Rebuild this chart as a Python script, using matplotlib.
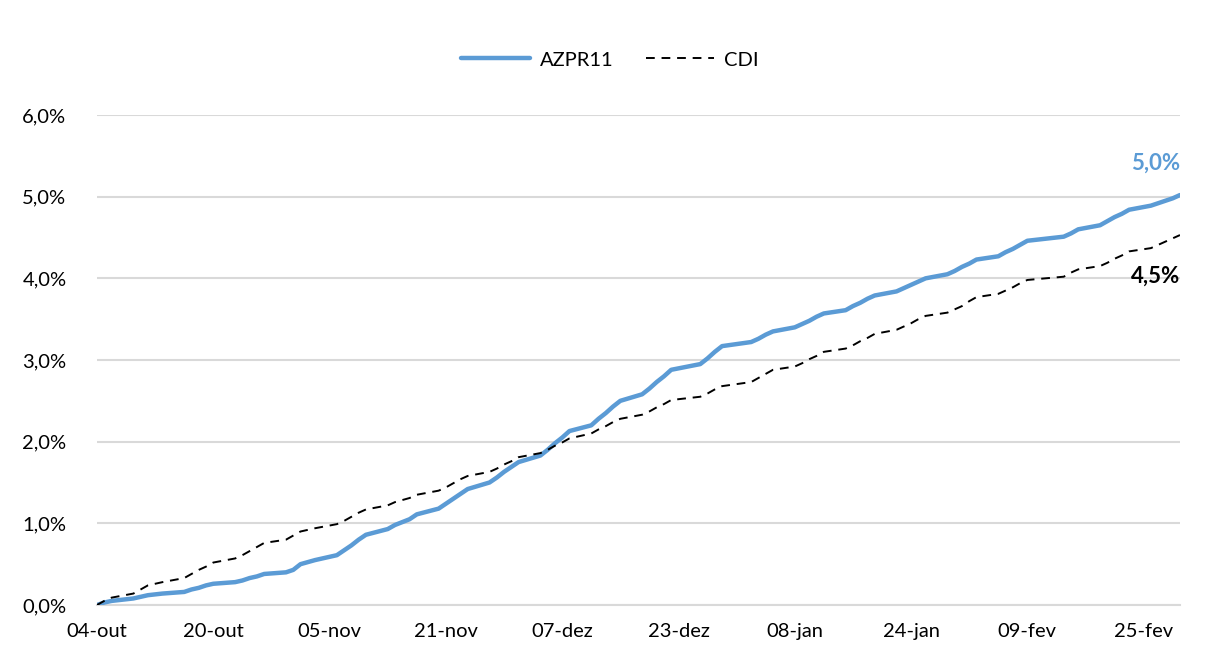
"""
AZPR11 vs CDI - retorno acumulado
"""
import matplotlib
matplotlib.use("Agg")
import matplotlib.pyplot as plt
import pandas as pd

# business days 04-out-2023 .. 01-mar-2024 (B3 holidays removed)
start_date = "2023-10-04"
end_date = "2024-03-01"
holidays = ["2023-10-12", "2023-11-02", "2023-11-15", "2023-12-25",
            "2024-01-01", "2024-02-12", "2024-02-13"]

# cumulative return in %, one row per week
azpr11 = [
    0.00, 0.03, 0.05,
    0.08, 0.10, 0.12, 0.14,
    0.16, 0.19, 0.21, 0.24, 0.26,
    0.28, 0.30, 0.33, 0.35, 0.38,
    0.40, 0.43, 0.50, 0.55,
    0.61, 0.67, 0.73, 0.80, 0.86,
    0.93, 0.98, 1.05, 1.11,
    1.18, 1.24, 1.30, 1.36, 1.42,
    1.50, 1.56, 1.63, 1.69, 1.75,
    1.83, 1.90, 1.98, 2.05, 2.13,
    2.20, 2.28, 2.35, 2.43, 2.50,
    2.58, 2.65, 2.73, 2.80, 2.88,
    2.95, 3.02, 3.10, 3.17,
    3.22, 3.26, 3.31, 3.35,
    3.40, 3.44, 3.48, 3.53, 3.57,
    3.61, 3.66, 3.70, 3.75, 3.79,
    3.84, 3.88, 3.92, 3.96, 4.00,
    4.05, 4.09, 4.14, 4.18, 4.23,
    4.27, 4.32, 4.36, 4.41, 4.46,
    4.51, 4.55, 4.60,
    4.65, 4.70, 4.75, 4.79, 4.84,
    4.89, 4.92, 4.95, 4.98, 5.02,
]
cdi = [
    0.00, 0.05, 0.09,
    0.14, 0.19, 0.24, 0.28,
    0.33, 0.38, 0.43, 0.47, 0.52,
    0.57, 0.61, 0.66, 0.71, 0.76,
    0.80, 0.85, 0.90, 0.94,
    0.99, 1.03, 1.08, 1.13, 1.17,
    1.22, 1.26, 1.31, 1.35,
    1.40, 1.44, 1.49, 1.54, 1.58,
    1.63, 1.67, 1.72, 1.76, 1.81,
    1.86, 1.90, 1.95, 1.99, 2.04,
    2.10, 2.15, 2.19, 2.24, 2.28,
    2.33, 2.37, 2.42, 2.46, 2.51,
    2.55, 2.59, 2.64, 2.68,
    2.73, 2.78, 2.83, 2.88,
    2.92, 2.96, 3.01, 3.05, 3.10,
    3.14, 3.18, 3.23, 3.27, 3.32,
    3.37, 3.41, 3.45, 3.50, 3.54,
    3.58, 3.62, 3.66, 3.72, 3.77,
    3.81, 3.85, 3.89, 3.94, 3.98,
    4.02, 4.07, 4.11,
    4.15, 4.19, 4.24, 4.28, 4.33,
    4.37, 4.41, 4.45, 4.49, 4.53,
]
series_names = ["AZPR11", "CDI"]
y_ticks = [0, 1, 2, 3, 4, 5, 6]
month_pt = {10: "out", 11: "nov", 12: "dez", 1: "jan", 2: "fev", 3: "mar"}

dates = pd.bdate_range(start_date, end_date, freq="C", holidays=holidays)

BLUE = "#5B9BD5"
GRID = "#D9D9D9"
plt.rcParams["font.family"] = ["Lato", "DejaVu Sans"]

fig = plt.figure(figsize=(12.11, 6.69), dpi=100)
ax = fig.add_axes([97 / 1211, 1 - 605 / 669, (1180 - 97) / 1211, (605 - 115) / 669])

ax.plot(dates, azpr11, color=BLUE, lw=3.2, label=series_names[0],
        solid_capstyle="round", zorder=3)
ax.plot(dates, cdi, color="black", lw=1.4, ls=(0, (4.5, 3.5)),
        label=series_names[1], zorder=4)

ax.set_xlim(dates[0], dates[-1])
ax.set_ylim(y_ticks[0], y_ticks[-1])

# y axis
ax.set_yticks(y_ticks)
ax.set_yticklabels([f"{v:.1f}%".replace(".", ",") for v in y_ticks])
ax.yaxis.grid(True, color=GRID, lw=1.5)
ax.set_axisbelow(True)

# x axis, one label every 16 days
x_ticks = pd.date_range(start_date, periods=10, freq="16D")
ax.set_xticks(x_ticks)
ax.set_xticklabels([f"{d.day:02d}-{month_pt[d.month]}" for d in x_ticks])

ax.tick_params(axis="both", length=0, labelsize=14.5, colors="black")
ax.tick_params(axis="y", pad=22)
ax.tick_params(axis="x", pad=13)
for side in ["top", "right", "left"]:
    ax.spines[side].set_visible(False)
ax.spines["bottom"].set_color(GRID)
ax.spines["bottom"].set_linewidth(1.5)

# end labels
ax.annotate(f"{azpr11[-1]:.1f}%".replace(".", ","), (dates[-1], azpr11[-1]),
            xytext=(0, 15), textcoords="offset points", ha="right", va="bottom",
            color=BLUE, fontsize=16, fontweight="bold")
ax.annotate(f"{cdi[-1]:.1f}%".replace(".", ","), (dates[-1], cdi[-1]),
            xytext=(0, -22), textcoords="offset points", ha="right", va="top",
            color="black", fontsize=16, fontweight="bold")

fig.legend(loc="center", bbox_to_anchor=(610 / 1211, 1 - 60 / 669), ncol=2,
           frameon=False, fontsize=14.5, handlelength=3.4, handletextpad=0.5,
           columnspacing=1.6)

fig.savefig("out.png", dpi=100)
